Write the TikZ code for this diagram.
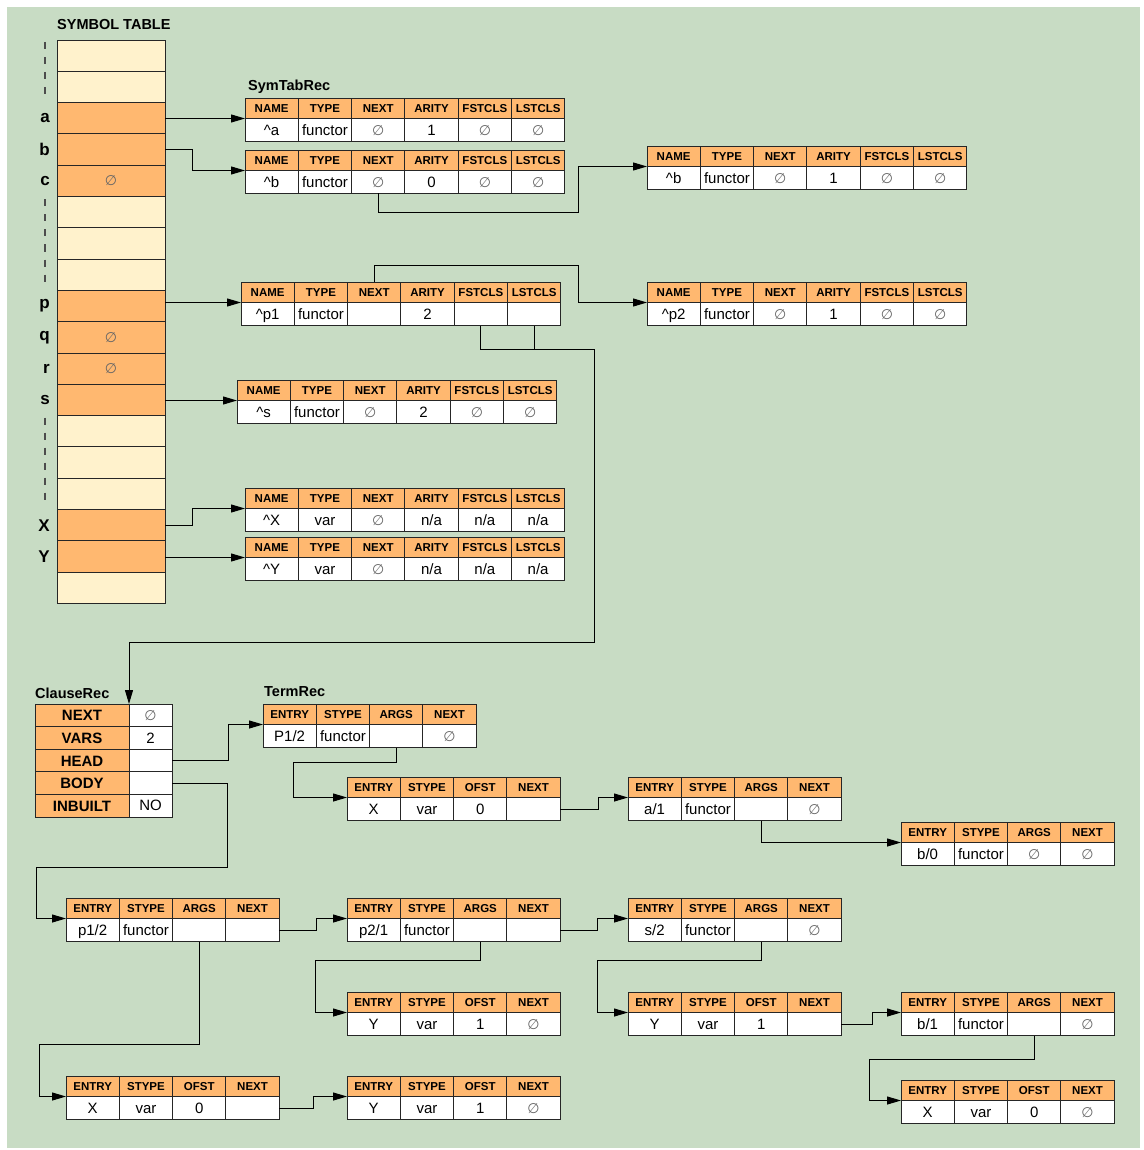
\documentclass[tikz,border=0pt]{standalone}
\usepackage{fontspec}
\setmainfont{Liberation Sans}
\newfontfamily\nilfont{DejaVu Sans}
\usetikzlibrary{positioning,arrows.meta}

\definecolor{orng}{RGB}{255,184,112}
\definecolor{cream}{RGB}{255,242,204}
\definecolor{bggreen}{RGB}{200,220,196}

\newcommand{\nullp}{{\nilfont\fontsize{14}{16}\selectfont\color{black!60}\char"2205}}

% one symbol table record: name, top left, six values
\newcommand{\symrec}[3]{%
  \begin{scope}[shift={(#2)}]
    \foreach \hd [count=\i] in {NAME,TYPE,NEXT,ARITY,FSTCLS,LSTCLS}
      \node[hcell, anchor=north west] (#1-h\i) at ({(\i-1)*53.3},0) {\hd};
  \end{scope}
  \foreach \vl [count=\i] in {#3}
    \node[vcell, anchor=north] (#1-v\i) at (#1-h\i.south) {\vl};
}

% one term record: name, top left, third header, four values
\newcommand{\termrec}[4]{%
  \begin{scope}[shift={(#2)}]
    \foreach \hd [count=\i] in {ENTRY,STYPE,#3,NEXT}
      \node[hcell, anchor=north west] (#1-h\i) at ({(\i-1)*53.3},0) {\hd};
  \end{scope}
  \foreach \vl [count=\i] in {#4}
    \node[vcell, anchor=north] (#1-v\i) at (#1-h\i.south) {\vl};
}

\begin{document}
\begin{tikzpicture}[
  x=1pt, y=-1pt,
  font=\fontsize{15}{17}\selectfont,
  hcell/.style={
    rectangle, draw=black!85, line width=0.9pt, outer sep=0pt,
    fill=orng, minimum width=53.3pt, minimum height=20.5pt, inner sep=0pt,
    font=\fontsize{11.5}{13}\selectfont\bfseries, text height=8.2pt, text depth=0pt
  },
  vcell/.style={hcell, fill=white, minimum height=23pt,
    font=\fontsize{15}{17}\selectfont, text height=10.5pt, text depth=0pt},
  strow/.style={
    rectangle, draw=black!85, line width=0.9pt, outer sep=0pt,
    minimum width=108pt, minimum height=31.3pt, inner sep=0pt
  },
  stlbl/.style={font=\fontsize{17}{20}\selectfont\bfseries, inner sep=0pt},
  crkey/.style={
    rectangle, draw=black!85, line width=0.9pt, outer sep=0pt,
    fill=orng, minimum width=94pt, minimum height=22.6pt, inner sep=0pt,
    font=\fontsize{15}{18}\selectfont\bfseries, text height=11pt, text depth=0pt
  },
  crval/.style={crkey, fill=white, minimum width=43pt,
    font=\fontsize{15}{17}\selectfont, text height=10.5pt, text depth=0pt},
  ttl/.style={font=\fontsize{14.5}{17}\selectfont\bfseries, inner sep=0pt, anchor=base west},
  ptr/.style={-{Triangle[length=14pt,width=8pt]}, line width=1pt, draw=black},
  gapline/.style={draw=black!70, line width=1.2pt, dash pattern=on 7pt off 8pt}
]
\useasboundingbox (0,0) rectangle (1143,1150);
\fill[white] (0,0) rectangle (1143,1150);
\fill[bggreen] (7,7) rectangle (1140,1148);

% --- symbol table ---
\foreach \i/\c in {1/cream,2/cream,3/orng,4/orng,5/orng,6/cream,7/cream,8/cream,9/orng,
                   10/orng,11/orng,12/orng,13/cream,14/cream,15/cream,16/orng,17/orng,18/cream}
  \node[strow, fill=\c, anchor=north west] (st\i) at (57,{40+(\i-1)*31.3}) {};
\foreach \i/\l in {3/a,4/b,5/c,9/p,10/q,11/r,12/s,16/X,17/Y}
  \node[stlbl, left=7pt of st\i] (lb-\l) {\l};
\foreach \i in {5,10,11}
  \node (stnil\i) at (st\i) {\nullp};
\draw[gapline] ([yshift=-2pt]st1.north -| lb-a) -- ([yshift=7pt]st3.north -| lb-a);
\draw[gapline] ([yshift=-3pt]st6.north -| lb-a) -- ([yshift=6pt]st9.north -| lb-a);
\draw[gapline] ([yshift=-2pt]st13.north -| lb-a) -- ([yshift=6pt]st16.north -| lb-a);
\node[ttl] (sttitle) at ([yshift=10pt]st1.north west) {SYMBOL TABLE};

% --- symbol table records ---
\symrec{symA}{245,98}{\textasciicircum a,functor,\nullp,1,\nullp,\nullp}
\symrec{symB}{245,150}{\textasciicircum b,functor,\nullp,0,\nullp,\nullp}
\symrec{symB2}{647,146}{\textasciicircum b,functor,\nullp,1,\nullp,\nullp}
\symrec{symP1}{241,282}{\textasciicircum p1,functor,{},2,{},{}}
\symrec{symP2}{647,282}{\textasciicircum p2,functor,\nullp,1,\nullp,\nullp}
\symrec{symS}{237,380}{\textasciicircum s,functor,\nullp,2,\nullp,\nullp}
\symrec{symX}{245,488}{\textasciicircum X,var,\nullp,n/a,n/a,n/a}
\symrec{symY}{245,537}{\textasciicircum Y,var,\nullp,n/a,n/a,n/a}
\node[ttl] (symtitle) at ([xshift=3pt,yshift=7pt]symA-h1.north west) {SymTabRec};

% --- clause record ---
\foreach \f/\v [count=\i] in {NEXT/\nullp,VARS/2,HEAD/{},BODY/{},INBUILT/NO} {
  \node[crkey, anchor=north west] (cr-k\i) at (35,{704+(\i-1)*22.6}) {\f};
  \node[crval, anchor=west] (cr-v\i) at (cr-k\i.east) {\v};
}
\node[ttl] (crtitle) at ([yshift=6pt]cr-k1.north west) {ClauseRec};

% --- term records ---
\termrec{t1}{263,704}{ARGS}{{P1/2},functor,{},\nullp}
\termrec{t2}{347,777}{OFST}{X,var,0,{}}
\termrec{t3}{628,777}{ARGS}{{a/1},functor,{},\nullp}
\termrec{t4}{901,822}{ARGS}{{b/0},functor,\nullp,\nullp}
\termrec{t5}{66,898}{ARGS}{{p1/2},functor,{},{}}
\termrec{t6}{347,898}{ARGS}{{p2/1},functor,{},{}}
\termrec{t7}{628,898}{ARGS}{{s/2},functor,{},\nullp}
\termrec{t8}{347,992}{OFST}{Y,var,1,\nullp}
\termrec{t9}{628,992}{OFST}{Y,var,1,{}}
\termrec{t10}{901,992}{ARGS}{{b/1},functor,{},\nullp}
\termrec{t11}{901,1080}{OFST}{X,var,0,\nullp}
\termrec{t12}{66,1076}{OFST}{X,var,0,{}}
\termrec{t13}{347,1076}{OFST}{Y,var,1,\nullp}
\node[ttl] (trtitle) at ([xshift=1pt,yshift=8pt]t1-h1.north west) {TermRec};

\coordinate (clsdrop) at (594,642);
\coordinate (bodyturn) at (227,867);

% --- symbol table -> records ---
\draw[ptr] (symA-v1.north west -| st3.east) -- (symA-v1.north west);
\draw[ptr] (st4.east) -- ++(27,0) |- (symB-v1.north west);
\draw[ptr] (symP1-v1.north west -| st9.east) -- (symP1-v1.north west);
\draw[ptr] (symS-v1.north west -| st12.east) -- (symS-v1.north west);
\draw[ptr] (st16.east) -- ++(27,0) |- (symX-v1.north west);
\draw[ptr] (symY-v1.north west -| st17.east) -- (symY-v1.north west);

% --- record links ---
\draw[ptr] (symB-v3.south) -- ++(0,19) -| ([xshift=-69pt]symB2-v1.north west) -- (symB2-v1.north west);
\draw[ptr] (symP1-h3.north) -- ++(0,-17) -| ([xshift=-69pt]symP2-v1.north west) -- (symP2-v1.north west);
\draw[ptr] (symP1-v5.south) -- ++(0,24) -| (clsdrop) -| (cr-v1.north west);
\draw[line width=1pt] (symP1-v6.south) -- ++(0,24);

% --- clause -> terms ---
\draw[ptr] (cr-v3.east) -- ++(56,0) |- (t1-v1.north west);
\draw[ptr] (cr-v4.east) -| (bodyturn) -| ([xshift=-30pt]t5-v1.north west) -- (t5-v1.north west);

% --- term links ---
\draw[ptr] (t1-v3.south) -- ++(0,15) -| ([xshift=-54pt]t2-v1.north west) -- (t2-v1.north west);
\draw[ptr] (t2-v4.east) -- ++(38,0) |- (t3-v1.north west);
\draw[ptr] (t3-v3.south) |- (t4-v1.north west);
\draw[ptr] (t5-v4.east) -- ++(37,0) |- (t6-v1.north west);
\draw[ptr] (t6-v4.east) -- ++(37,0) |- (t7-v1.north west);
\draw[ptr] (t6-v3.south) -- ++(0,19) -| ([xshift=-32pt]t8-v1.north west) -- (t8-v1.north west);
\draw[ptr] (t7-v3.south) -- ++(0,19) -| ([xshift=-31pt]t9-v1.north west) -- (t9-v1.north west);
\draw[ptr] (t9-v4.east) -- ++(31,0) |- (t10-v1.north west);
\draw[ptr] (t10-v3.south) -- ++(0,24) -| ([xshift=-32pt]t11-v1.north west) -- (t11-v1.north west);
\draw[ptr] (t5-v3.south) -- ++(0,103) -| ([xshift=-27pt]t12-v1.north west) -- (t12-v1.north west);
\draw[ptr] (t12-v4.east) -- ++(34,0) |- (t13-v1.north west);

\end{tikzpicture}
\end{document}
